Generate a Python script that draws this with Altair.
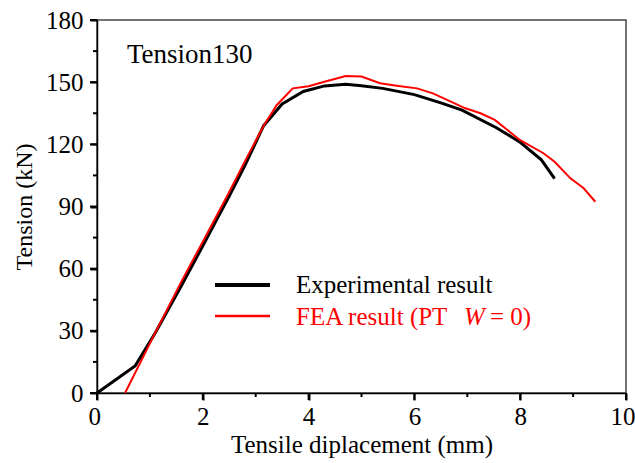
import altair as alt
import pandas as pd

exp_x = [0, 0.72, 1.1, 1.6, 2.0, 2.5, 2.8, 3.15, 3.5, 3.9, 4.3, 4.7, 5.0, 5.4, 6.0, 6.5, 6.9, 7.55, 8.0, 8.4, 8.65]
exp_y = [0, 13, 29, 52, 71, 95, 110, 129, 139.5, 145.5, 148.2, 149, 148.3, 147, 144, 140, 136.5, 128, 121, 112.5, 103.5]

fea_x = [0.53, 1.1, 1.6, 2.0, 2.5, 2.8, 3.15, 3.4, 3.7, 4.0, 4.3, 4.7, 5.0, 5.35, 5.7, 6.05, 6.35, 6.7, 6.95, 7.25, 7.52, 8.0, 8.44, 8.65, 8.95, 9.2, 9.42]
fea_y = [0, 29, 54, 73, 97, 112, 129, 139, 147, 148, 150.2, 153, 152.7, 149.5, 148.2, 147, 144.6, 140.5, 137.5, 135, 131.8, 122, 115.7, 111.6, 103.6, 98.8, 92.3]

x_major = [0, 2, 4, 6, 8, 10]
x_minor = [1, 3, 5, 7, 9]
y_major = [0, 30, 60, 90, 120, 150, 180]
y_minor = [15, 45, 75, 105, 135, 165]

FONT = "Liberation Serif"
H = 373

exp_df = pd.DataFrame({"x": exp_x, "y": exp_y, "i": range(len(exp_x))})
fea_df = pd.DataFrame({"x": fea_x, "y": fea_y, "i": range(len(fea_x))})

xscale = alt.Scale(domain=[0, 10], nice=False, zero=False)
yscale = alt.Scale(domain=[0, 180], nice=False, zero=False)

xaxis = alt.Axis(
    orient="bottom", title="Tensile diplacement (mm)", values=x_major,
    ticks=True, tickSize=7, tickColor="#000000", tickWidth=2,
    grid=False, domainColor="black", domainWidth=1.5,
    labelFont=FONT, labelFontSize=25, labelColor="black", labelFlush=True, labelFlushOffset=9,
    labelPadding=4,
    titleFont=FONT, titleFontSize=25, titleFontWeight="normal", titleColor="black", titlePadding=3,
)
yaxis = alt.Axis(
    orient="left", title="Tension (kN)", values=y_major,
    ticks=True, tickSize=7, tickColor="#000000", tickWidth=2,
    grid=False, domainColor="black", domainWidth=1.5,
    labelFont=FONT, labelFontSize=25, labelColor="black", labelFlush=False, labelPadding=7,
    titleFont=FONT, titleFontSize=24, titleFontWeight="normal", titleColor="black", titlePadding=9,
)

exp_line = alt.Chart(exp_df).mark_line(color="black", strokeWidth=3).encode(
    x=alt.X("x:Q", scale=xscale, axis=xaxis),
    y=alt.Y("y:Q", scale=yscale, axis=yaxis),
    order="i:Q",
)
fea_line = alt.Chart(fea_df).mark_line(color="#ff0000", strokeWidth=2).encode(
    x=alt.X("x:Q", scale=xscale),
    y=alt.Y("y:Q", scale=yscale),
    order="i:Q",
)

# tick marks drawn through the shared scales
def xticks(vals, length):
    return alt.Chart(pd.DataFrame({"v": vals})).mark_rule(color="black", strokeWidth=2).encode(
        x=alt.X("v:Q", scale=xscale), y=alt.value(H), y2=alt.value(H + length)
    )

def yticks(vals, length):
    return alt.Chart(pd.DataFrame({"v": vals})).mark_rule(color="black", strokeWidth=2).encode(
        y=alt.Y("v:Q", scale=yscale), x=alt.value(0), x2=alt.value(-length)
    )

tick_layers = [xticks(x_major, 7), xticks(x_minor, 4), yticks(y_major, 7), yticks(y_minor, 4)]

label_df = pd.DataFrame({"t": ["Tension130"]})
title_txt = alt.Chart(label_df).mark_text(
    font=FONT, fontSize=27, align="left", baseline="alphabetic", color="black"
).encode(x=alt.value(30), y=alt.value(43), text="t:N")

leg_exp = alt.Chart(label_df).mark_rule(color="black", strokeWidth=4).encode(
    x=alt.value(118), x2=alt.value(173), y=alt.value(265)
)
leg_fea = alt.Chart(label_df).mark_rule(color="#ff0000", strokeWidth=2.5).encode(
    x=alt.value(118), x2=alt.value(173), y=alt.value(296)
)
leg_t1 = alt.Chart(pd.DataFrame({"t": ["Experimental result"]})).mark_text(
    font=FONT, fontSize=25, align="left", baseline="middle", color="black"
).encode(x=alt.value(199), y=alt.value(265), text="t:N")
leg_t2 = alt.Chart(pd.DataFrame({"t": ["FEA result (PT"]})).mark_text(
    font=FONT, fontSize=25, align="left", baseline="middle", color="#ff0000"
).encode(x=alt.value(199), y=alt.value(297), text="t:N")
leg_t3 = alt.Chart(pd.DataFrame({"t": ["W"]})).mark_text(
    font=FONT, fontSize=25, fontStyle="italic", align="left", baseline="middle", color="#ff0000"
).encode(x=alt.value(367), y=alt.value(297), text="t:N")
leg_t4 = alt.Chart(pd.DataFrame({"t": ["= 0)"]})).mark_text(
    font=FONT, fontSize=25, align="left", baseline="middle", color="#ff0000"
).encode(x=alt.value(393), y=alt.value(297), text="t:N")

chart = alt.layer(
    exp_line, fea_line, *tick_layers, title_txt, leg_exp, leg_fea, leg_t1, leg_t2, leg_t3, leg_t4
).properties(
    width=529, height=H,
    padding={"left": 97, "top": 20, "right": 9, "bottom": 70},
    autosize=alt.AutoSizeParams(type="none"),
    background="white",
).configure_view(stroke="#444444", strokeWidth=1.5)

chart.save("out.html", embed_options={"renderer": "svg", "actions": False})
